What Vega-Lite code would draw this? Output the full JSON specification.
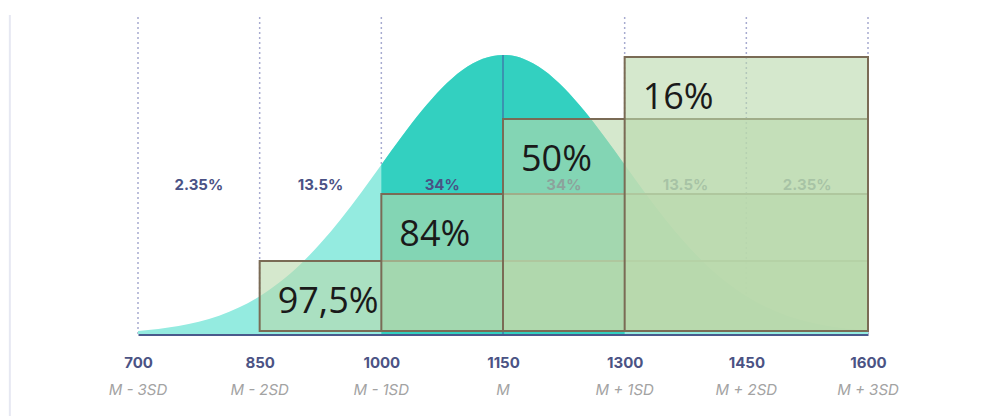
{
  "$schema": "https://vega.github.io/schema/vega-lite/v6.json",
  "width": 730,
  "height": 319,
  "autosize": {"type": "none"},
  "padding": {"left": 138, "top": 15, "right": 113, "bottom": 82},
  "background": "white",
  "config": {"view": {"stroke": null}, "axisY": {"disable": true}},
  "datasets": {
    "curve": [
      {"x": 700, "y": 0.0097}, {"x": 725, "y": 0.0158}, {"x": 750, "y": 0.025}, {"x": 775, "y": 0.0384},
      {"x": 800, "y": 0.0575}, {"x": 825, "y": 0.0837}, {"x": 850, "y": 0.1184}, {"x": 875, "y": 0.163},
      {"x": 900, "y": 0.2182}, {"x": 925, "y": 0.2841}, {"x": 950, "y": 0.3597}, {"x": 975, "y": 0.4431},
      {"x": 1000, "y": 0.5307}, {"x": 1025, "y": 0.6183}, {"x": 1050, "y": 0.7006}, {"x": 1075, "y": 0.7722},
      {"x": 1100, "y": 0.8277}, {"x": 1125, "y": 0.8629}, {"x": 1150, "y": 0.875},
      {"x": 1175, "y": 0.8629}, {"x": 1200, "y": 0.8277}, {"x": 1225, "y": 0.7722}, {"x": 1250, "y": 0.7006},
      {"x": 1275, "y": 0.6183}, {"x": 1300, "y": 0.5307}, {"x": 1325, "y": 0.4431}, {"x": 1350, "y": 0.3597},
      {"x": 1375, "y": 0.2841}, {"x": 1400, "y": 0.2182}, {"x": 1425, "y": 0.163}, {"x": 1450, "y": 0.1184},
      {"x": 1475, "y": 0.0837}, {"x": 1500, "y": 0.0575}, {"x": 1525, "y": 0.0384}, {"x": 1550, "y": 0.025},
      {"x": 1575, "y": 0.0158}, {"x": 1600, "y": 0.0097}
    ],
    "guides": [
      {"x": 700, "sub": "M - 3SD"}, {"x": 850, "sub": "M - 2SD"}, {"x": 1000, "sub": "M - 1SD"},
      {"x": 1150, "sub": "M"}, {"x": 1300, "sub": "M + 1SD"}, {"x": 1450, "sub": "M + 2SD"}, {"x": 1600, "sub": "M + 3SD"}
    ],
    "bands": [
      {"x": 775, "label": "2.35%"}, {"x": 925, "label": "13.5%"}, {"x": 1075, "label": "34%"},
      {"x": 1225, "label": "34%"}, {"x": 1375, "label": "13.5%"}, {"x": 1525, "label": "2.35%"}
    ],
    "boxes": [
      {"start": 850, "end": 1600, "top": 0.229, "label": "97,5%", "ly": 0.1},
      {"start": 1000, "end": 1600, "top": 0.439, "label": "84%", "ly": 0.31},
      {"start": 1150, "end": 1600, "top": 0.674, "label": "50%", "ly": 0.545},
      {"start": 1300, "end": 1600, "top": 0.868, "label": "16%", "ly": 0.74}
    ],
    "border": [{"x": 542, "y": 1.0, "y2": -0.26}]
  },
  "layer": [
    {
      "data": {"name": "border"},
      "mark": {"type": "rule", "color": "#e6e8f2", "strokeWidth": 2},
      "encoding": {
        "x": {"field": "x", "type": "quantitative", "scale": {"domain": [700, 1600]}},
        "y": {"field": "y", "type": "quantitative", "scale": {"domain": [0, 1]}, "axis": null},
        "y2": {"field": "y2"}
      }
    },
    {
      "data": {"name": "guides"},
      "transform": [{"filter": "datum.x != 1150"}],
      "mark": {"type": "rule", "color": "#a7abd0", "strokeWidth": 1.5, "strokeDash": [2, 3]},
      "encoding": {
        "x": {"field": "x", "type": "quantitative"},
        "y": {"datum": 0},
        "y2": {"datum": 1}
      }
    },
    {
      "data": {"name": "curve"},
      "mark": {"type": "area", "color": "#94ebe0", "opacity": 1, "interpolate": "monotone"},
      "encoding": {
        "x": {"field": "x", "type": "quantitative"},
        "y": {"field": "y", "type": "quantitative"}
      }
    },
    {
      "data": {"name": "curve"},
      "transform": [{"filter": "datum.x >= 1000 && datum.x <= 1300"}],
      "mark": {"type": "area", "color": "#33d0c0", "opacity": 1, "interpolate": "monotone"},
      "encoding": {
        "x": {"field": "x", "type": "quantitative"},
        "y": {"field": "y", "type": "quantitative"}
      }
    },
    {
      "data": {"values": [{"x": 1150, "y": 0.875}]},
      "mark": {"type": "rule", "color": "#3a93b0", "strokeWidth": 2},
      "encoding": {
        "x": {"field": "x", "type": "quantitative"},
        "y": {"field": "y", "type": "quantitative"},
        "y2": {"datum": 0}
      }
    },
    {
      "data": {"name": "bands"},
      "mark": {"type": "text", "font": "Inter", "fontWeight": "bold", "fontSize": 15, "color": "#4a5285", "baseline": "middle"},
      "encoding": {
        "x": {"field": "x", "type": "quantitative"},
        "y": {"datum": 0.468},
        "text": {"field": "label"}
      }
    },
    {
      "data": {"name": "boxes"},
      "mark": {"type": "rect", "fill": "#b9d9ab", "fillOpacity": 0.6, "stroke": "#7a6b55", "strokeWidth": 2},
      "encoding": {
        "x": {"field": "start", "type": "quantitative"},
        "x2": {"field": "end"},
        "y": {"field": "top", "type": "quantitative"},
        "y2": {"datum": 0.0094}
      }
    },
    {
      "data": {"name": "boxes"},
      "mark": {"type": "text", "font": "Open Sans", "fontSize": 36, "color": "#1a1a1a", "align": "left", "baseline": "middle", "dx": 18},
      "encoding": {
        "x": {"field": "start", "type": "quantitative"},
        "y": {"field": "ly", "type": "quantitative"},
        "text": {"field": "label"}
      }
    },
    {
      "data": {"name": "guides"},
      "mark": {"type": "text", "font": "Inter", "fontStyle": "italic", "fontSize": 15, "color": "#a3a3a3", "baseline": "middle"},
      "encoding": {
        "x": {"field": "x", "type": "quantitative", "axis": {
          "values": [700, 850, 1000, 1150, 1300, 1450, 1600],
          "format": "d",
          "title": null, "grid": false, "ticks": false,
          "domainColor": "#4a5a8c", "domainWidth": 3,
          "labelFont": "Inter", "labelFontWeight": "bold", "labelFontSize": 15, "labelColor": "#4b5384",
          "labelPadding": 21, "labelFlush": false
        }},
        "y": {"datum": -0.1755},
        "text": {"field": "sub"}
      }
    }
  ]
}
